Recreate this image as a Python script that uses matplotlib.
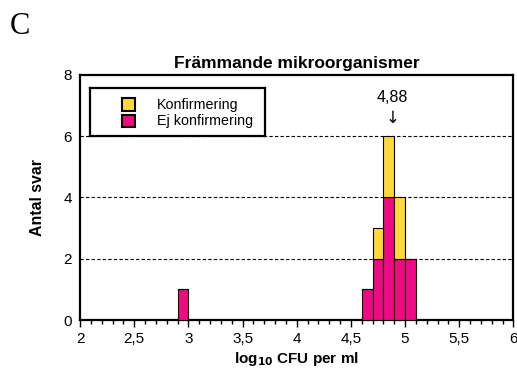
import matplotlib
matplotlib.use("Agg")
import matplotlib.pyplot as plt
from matplotlib.ticker import MultipleLocator, FuncFormatter
from matplotlib.patches import Rectangle

bin_left = [2.9, 4.6, 4.7, 4.8, 4.9, 5.0]
ej_konf = [1, 1, 2, 4, 2, 2]
konf = [0, 0, 1, 2, 2, 0]
median_val = 4.88
median_label = "4,88"

yellow = "#FFD83A"
magenta = "#EE0A82"

plt.rcParams['font.family'] = ['Liberation Sans', 'DejaVu Sans']
fig = plt.figure(figsize=(5.17, 3.74), dpi=100)
ax = fig.add_axes([0.155, 0.144, 0.838, 0.656])

ax.bar(bin_left, ej_konf, width=0.1, align='edge', color=magenta, edgecolor='black', linewidth=0.8, zorder=3)
ax.bar(bin_left, konf, width=0.1, bottom=ej_konf, align='edge', color=yellow, edgecolor='black', linewidth=0.8, zorder=3)

ax.set_xlim(2, 6)
ax.set_ylim(0, 8)
ax.xaxis.set_major_locator(MultipleLocator(0.5))
ax.xaxis.set_minor_locator(MultipleLocator(0.1))
ax.yaxis.set_major_locator(MultipleLocator(2))
fmt = FuncFormatter(lambda v, p: ('%g' % v).replace('.', ','))
ax.xaxis.set_major_formatter(fmt)
ax.tick_params(axis='x', which='major', direction='out', length=5, width=1, labelsize=11)
ax.tick_params(axis='x', which='minor', direction='out', length=3, width=1)
ax.tick_params(axis='y', direction='out', length=0, labelsize=11, pad=6)
for y in [2, 4, 6]:
    ax.axhline(y, color='black', linestyle=(0, (3, 2)), linewidth=0.8, zorder=1)
for s in ax.spines.values():
    s.set_linewidth(1.6)

ax.set_title("Främmande mikroorganismer", fontsize=12.5, fontweight='bold', pad=5)
ax.set_xlabel(r"log$_{\mathbf{10}}$ CFU per ml", fontsize=11, fontweight='bold', labelpad=3)
ax.set_ylabel("Antal svar", fontsize=11.4, fontweight='bold', labelpad=13)

ax.annotate(median_label, xy=(median_val, 6.0), xytext=(median_val, 7.0),
            ha='center', va='bottom', fontsize=11.5)
ax.text(median_val, 6.9, "\u2193", ha='center', va='top', fontsize=12, family=['DejaVu Sans'])

# legend
leg = fig.add_axes([0.174, 0.636, 0.339, 0.128])
leg.set_xlim(0, 1); leg.set_ylim(0, 1)
leg.set_xticks([]); leg.set_yticks([])
for s in leg.spines.values():
    s.set_linewidth(1.6)
labels = ["Konfirmering", "Ej konfirmering"]
cols = [yellow, magenta]
for i, (lab, c) in enumerate(zip(labels, cols)):
    yc = 0.66 - i * 0.34
    leg.add_patch(Rectangle((0.18, yc - 0.13), 0.075, 0.26, facecolor=c, edgecolor='black', linewidth=1.5))
    leg.text(0.38, yc, lab, va='center', ha='left', fontsize=10.3)

fig.text(0.018, 0.928, "C", fontsize=22, family=['Liberation Serif'], va='center')

fig.savefig("out.png", dpi=100)
